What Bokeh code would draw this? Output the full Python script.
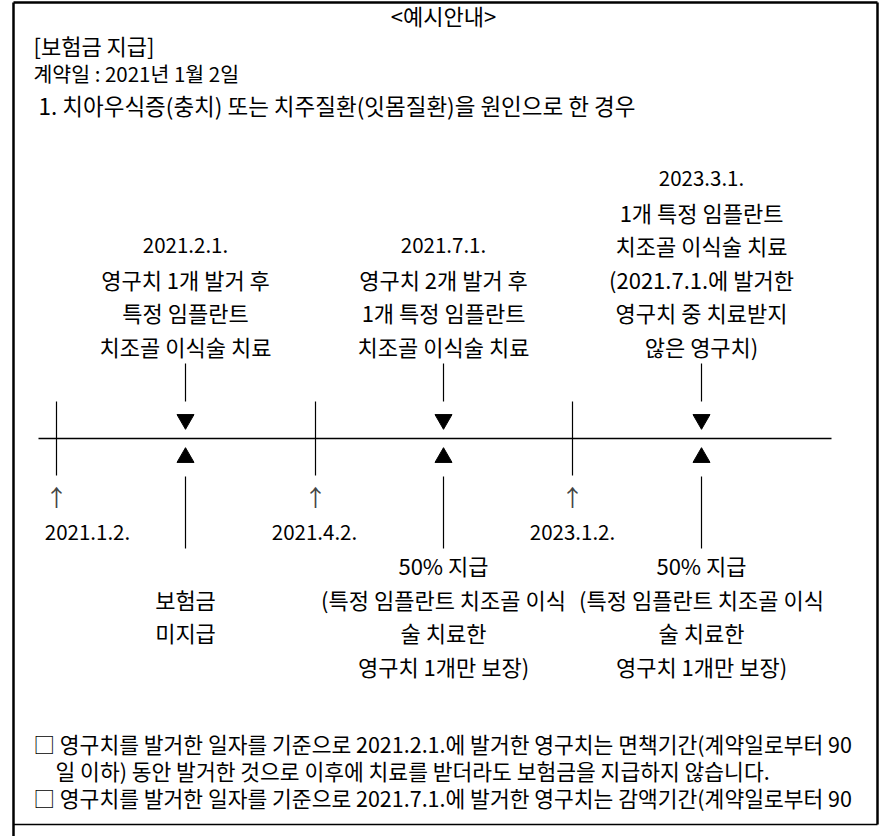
from bokeh.plotting import figure
from bokeh.models import Range1d
from bokeh.embed import file_html
from bokeh.resources import INLINE
from bokeh.core.properties import value

# ---------------- content ----------------
title_text = "<예시안내>"
header_lines = ["[보험금 지급]", "계약일 : 2021년 1월 2일"]
case_title = "1. 치아우식증(충치) 또는 치주질환(잇몸질환)을 원인으로 한 경우"

period_dates = ["2021.1.2.", "2021.4.2.", "2023.1.2."]

event_labels = [
    ["2021.2.1.", "영구치 1개 발거 후", "특정 임플란트", "치조골 이식술 치료"],
    ["2021.7.1.", "영구치 2개 발거 후", "1개 특정 임플란트", "치조골 이식술 치료"],
    ["2023.3.1.", "1개 특정 임플란트", "치조골 이식술 치료", "(2021.7.1.에 발거한",
     "영구치 중 치료받지", "않은 영구치)"],
]

payout_labels = [
    ["보험금", "미지급"],
    ["50% 지급", "(특정 임플란트 치조골 이식", "술 치료한", "영구치 1개만 보장)"],
    ["50% 지급", "(특정 임플란트 치조골 이식", "술 치료한", "영구치 1개만 보장)"],
]

notes = [
    "□ 영구치를 발거한 일자를 기준으로 2021.2.1.에 발거한 영구치는 면책기간(계약일로부터 90",
    "일 이하) 동안 발거한 것으로 이후에 치료를 받더라도 보험금을 지급하지 않습니다.",
    "□ 영구치를 발거한 일자를 기준으로 2021.7.1.에 발거한 영구치는 감액기간(계약일로부터 90",
]

# ---------------- layout (pixel space of the page) ----------------
FONT = value("Noto Sans CJK KR")
FS = "22px"        # Hangul lines
FS_NUM = "20.5px"  # date-only lines
PITCH = 33.5

event_x = [185, 443, 701]
period_x = [56, 315, 572]
date_x = [87, 314, 572]
line_y = 438

p = figure(width=884, height=836, x_range=Range1d(0, 884), y_range=Range1d(836, 0),
           output_backend="svg", toolbar_location=None, min_border=0)
p.axis.visible = False
p.grid.visible = False
p.outline_line_color = None
p.background_fill_color = "white"
p.border_fill_color = "white"


def txt(x, y, t, align="center", size=FS, color="black"):
    p.text(x=[x], y=[y], text=[t], text_font=FONT, text_font_size=size,
           text_align=align, text_baseline="middle", text_color=color)


def is_date(t):
    return all(c in "0123456789." for c in t)


# frame
p.segment(x0=[13, 13, 877, 13], y0=[2, 2, 2, 824], x1=[877, 13, 877, 877], y1=[2, 836, 824, 824],
          line_color="black", line_width=[2.5, 2.5, 2.5, 1.5])

# header texts
txt(443, 14, title_text)
txt(33, 44, header_lines[0], align="left")
txt(33, 72, header_lines[1], align="left", size="20.5px")
txt(38, 104, case_title, align="left", size="22.5px")

# timeline
p.segment(x0=[38], y0=[line_y], x1=[831], y1=[line_y], line_color="black", line_width=1.5)

# period tick lines, arrows and dates
p.segment(x0=period_x, y0=[401] * 3, x1=period_x, y1=[475] * 3, line_color="black", line_width=1.2)
for px, dx, d in zip(period_x, date_x, period_dates):
    txt(px, 495, "↑", color="#444444", size="23px")
    txt(dx, 532, d, size=FS_NUM)

# event connectors and triangles
p.segment(x0=event_x, y0=[363] * 3, x1=event_x, y1=[401] * 3, line_color="black", line_width=1.2)
p.segment(x0=event_x, y0=[476] * 3, x1=event_x, y1=[548] * 3, line_color="black", line_width=1.2)
p.scatter(x=event_x, y=[419] * 3, marker="inverted_triangle", size=17,
          fill_color="black", line_color="black")
p.scatter(x=event_x, y=[457] * 3, marker="triangle", size=17,
          fill_color="black", line_color="black")

# event labels (bottom aligned above the connector)
for ex, lines in zip(event_x, event_labels):
    n = len(lines)
    for i, t in enumerate(lines):
        txt(ex, 345 - (n - 1 - i) * PITCH, t, size=FS_NUM if is_date(t) else FS)

# payout labels (vertically centred below)
for ex, lines in zip(event_x, payout_labels):
    n = len(lines)
    top = 615 - (n - 1) * PITCH / 2
    for i, t in enumerate(lines):
        txt(ex, top + i * PITCH, t)

# notes
txt(33, 743, notes[0], align="left", size="21.5px")
txt(55, 770, notes[1], align="left", size="21.5px")
txt(33, 797, notes[2], align="left", size="21.5px")

open("out.html", "w").write(file_html(p, INLINE))
